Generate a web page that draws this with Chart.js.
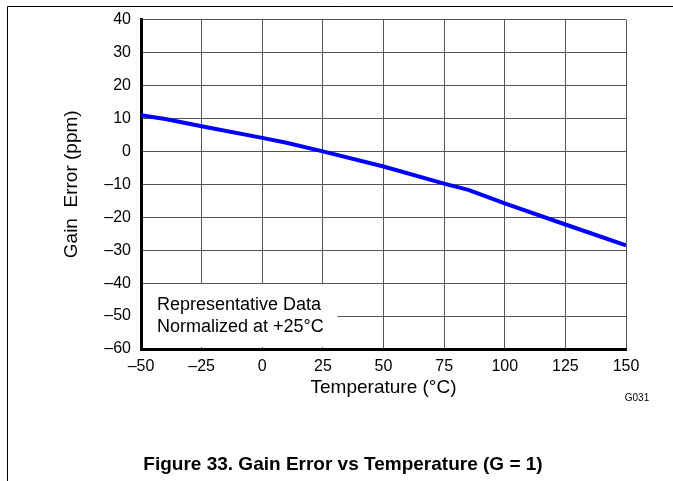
<!DOCTYPE html>
<html>
<head>
<meta charset="utf-8">
<script src="https://cdn.jsdelivr.net/npm/chart.js@4/dist/chart.umd.min.js"></script>
<style>
  html, body { margin: 0; padding: 0; background: #fff; }
  #wrap { width: 673px; height: 481px; position: relative; }
</style>
</head>
<body>
<div id="wrap"><canvas id="c" width="673" height="481"></canvas></div>
<script>
// data
const temps = [-50, -40, -25, 0, 10, 25, 50, 75, 85, 100, 125, 150];
const gainErr = [11, 9.8, 7.6, 4.1, 2.6, 0, -4.6, -9.8, -11.7, -15.8, -22.2, -28.5];
const xTicks = [-50, -25, 0, 25, 50, 75, 100, 125, 150];
const yTicks = [-60, -50, -40, -30, -20, -10, 0, 10, 20, 30, 40];
const noteLines = ["Representative Data", "Normalized at +25°C"];
const figTitle = "Figure 33. Gain Error vs Temperature (G = 1)";

const FONT = "Liberation Sans, Arial, sans-serif";
const fmt = v => (v < 0 ? "\u2013" + Math.abs(v) : String(v));

const extras = {
  id: "extras",
  beforeDatasetsDraw(chart) {
    const { ctx, scales: { x, y }, chartArea: a } = chart;
    // white note box in the lower left
    ctx.save();
    ctx.fillStyle = "#fff";
    const bx = x.getPixelForValue(31);
    const by = y.getPixelForValue(-40.3);
    ctx.fillRect(a.left + 2, by, bx - a.left - 2, a.bottom - 2 - by);
    ctx.fillStyle = "#000";
    ctx.font = "18px " + FONT;
    ctx.textBaseline = "middle";
    ctx.fillText(noteLines[0], a.left + 16, 305);
    ctx.fillText(noteLines[1], a.left + 16, 327);
    ctx.restore();
  },
  afterDraw(chart) {
    const { ctx } = chart;
    ctx.save();
    // page frame lines
    ctx.strokeStyle = "#000";
    ctx.lineWidth = 1;
    ctx.beginPath();
    ctx.moveTo(7.5, 481); ctx.lineTo(7.5, 6.5); ctx.lineTo(673, 6.5);
    ctx.stroke();
    ctx.fillStyle = "#000";
    ctx.font = "10px " + FONT;
    ctx.textAlign = "center";
    ctx.textBaseline = "middle";
    ctx.fillText("G031", 637, 398);
    ctx.font = "bold 19px " + FONT;
    ctx.fillText(figTitle, 343, 465);
    ctx.restore();
  }
};

new Chart(document.getElementById("c"), {
  type: "line",
  data: {
    datasets: [{
      data: temps.map((t, i) => ({ x: t, y: gainErr[i] })),
      borderColor: "#0000ff",
      borderWidth: 4,
      pointRadius: 0,
      tension: 0,
      fill: false,
    }],
  },
  options: {
    responsive: false,
    animation: false,
    layout: { padding: { left: 60, right: 47, top: 19, bottom: 82 } },
    plugins: { legend: { display: false }, tooltip: { enabled: false } },
    scales: {
      x: {
        type: "linear",
        min: -50, max: 150,
        afterBuildTicks: s => { s.ticks = xTicks.map(v => ({ value: v })); },
        afterFit: s => { s.height = 50; },
        ticks: { callback: fmt, color: "#000", font: { family: FONT, size: 16 }, padding: 8, maxRotation: 0 },
        grid: { color: "#555", lineWidth: 1, drawTicks: false },
        border: { color: "#000", width: 3 },
        title: { display: true, text: "Temperature (°C)", color: "#000", font: { family: FONT, size: 19 }, padding: { top: 0, bottom: 0 } },
      },
      y: {
        min: -60, max: 40,
        afterBuildTicks: s => { s.ticks = yTicks.map(v => ({ value: v })); },
        afterFit: s => { s.width = 81; },
        ticks: { callback: fmt, color: "#000", font: { family: FONT, size: 16 }, padding: 10 },
        grid: { color: "#555", lineWidth: 1, drawTicks: false },
        border: { color: "#000", width: 3 },
        title: { display: true, text: "Gain  Error (ppm)", color: "#000", font: { family: FONT, size: 19 }, padding: { top: 0, bottom: 0 } },
      },
    },
  },
  plugins: [extras],
});
</script>
</body>
</html>
